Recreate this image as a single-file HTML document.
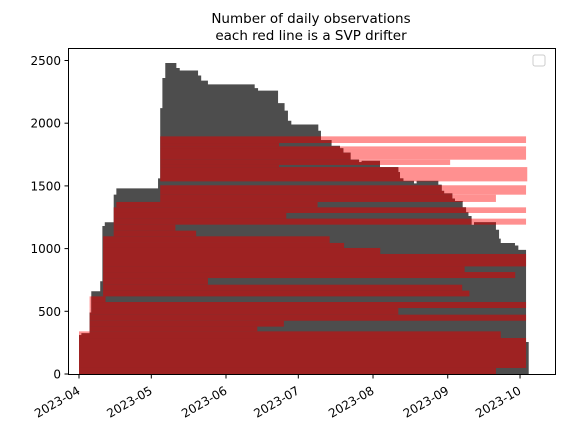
<!DOCTYPE html>
<html><head><meta charset="utf-8"><style>
html,body{margin:0;padding:0;background:#fff;}
svg text{font-family:"DejaVu Sans","Liberation Sans",sans-serif;}
</style></head><body>
<svg id="chart" width="561" height="435" viewBox="0 0 561 435" xmlns="http://www.w3.org/2000/svg">
<text x="311" y="23" font-size="13.5" text-anchor="middle">Number of daily observations</text>
<text x="311" y="40" font-size="13.5" text-anchor="middle">each red line is a SVP drifter</text>
<defs><clipPath id="histclip"><path id="clippath"/></clipPath></defs>
<g id="pink"></g>
<g id="hist"></g>
<g id="red" clip-path="url(#histclip)"></g>
<rect x="68.5" y="48.5" width="487" height="326" fill="none" stroke="#000" stroke-width="1"/>
<rect x="533" y="55" width="12" height="11" rx="2" fill="#fff" stroke="#ccc" stroke-width="1"/>
<g id="yaxis"></g>
<g id="xaxis"></g>
</svg>
<script>
const histEdges=[0,1,4.4,5.1,8.8,9.7,10.7,14.4,15.5,32.8,33.7,34.6,35.8,40.4,41.8,49.4,50.7,53.5,72.9,74.3,82.6,85.3,86.7,88.1,99.3,100.4,104.8,108.3,109.7,112.7,116.2,117.3,124.9,132.5,133.2,134.6,139,140.1,149.1,150.5,151.5,154.9,156,159.2,160.6,161.6,162.9,163.9,173,174.3,175,180.9,182.3,185.5,186.6];
const histValues=[310,325,490,660,740,1180,1210,1430,1480,1560,2120,2360,2480,2440,2420,2380,2340,2310,2280,2260,2160,2100,2020,1990,1940,1865,1820,1800,1765,1710,1690,1700,1650,1610,1560,1540,1520,1540,1510,1460,1440,1400,1380,1330,1290,1260,1190,1210,1150,1080,1045,1025,990,255];
// drifter bands: [low, high, startDay, endDay]
const bandLow=[0,48,287,340,378,425,473,526,574,619,665,712,765,813,858,957,1005,1045,1098,1143,1191,1239,1284,1329,1372,1430,1536,1650,1667,1709,1802,1815,1842];
const bandHigh=[48,287,340,378,425,473,526,574,619,665,712,765,813,858,957,1005,1045,1098,1143,1191,1239,1284,1329,1372,1430,1505,1650,1667,1709,1802,1815,1842,1895];
const bandStart=[0,0,0,4.4,4.4,4.4,4.4,4.4,4.4,10,10,10,10,10,10,10,10,10,14.4,14.4,14.4,14.4,14.4,15.5,33.7,33.7,33.7,33.7,33.7,33.7,33.7,33.7,33.7];
const bandEnd=[173,185.5,175,74,85,185.5,132.5,185.5,11,162,159,53.5,181,160,185.5,125,110,104,48.6,40,185.5,86,185.5,99,173,185.5,186,83,154,185.5,185.5,83,185.5];
const yTicks=[0,500,1000,1500,2000,2500];
const xTickDays=[0,30,61,91,122,153,183];
const xTickLabels=["2023-04","2023-05","2023-06","2023-07","2023-08","2023-09","2023-10"];

const NS="http://www.w3.org/2000/svg";
const xs=d=>79+d*2.41;
const ys=v=>374-v*0.1254;
function mk(tag,attrs,parent){const e=document.createElementNS(NS,tag);for(const k in attrs)e.setAttribute(k,attrs[k]);parent.appendChild(e);return e;}

const pink=document.getElementById('pink'),red=document.getElementById('red'),hist=document.getElementById('hist');
for(let i=0;i<bandLow.length;i++){
  const x0=xs(bandStart[i]),x1=xs(bandEnd[i]),y0=ys(bandHigh[i]),y1=ys(bandLow[i]);
  const p=mk('rect',{x:x0,y:y0,width:x1-x0,height:y1-y0,fill:'#ff9090'},pink);
  
  
  const r=mk('rect',{x:x0,y:y0,width:x1-x0,height:y1-y0,fill:'#9e2222'},red);
  
  
}
let d='M'+xs(histEdges[0])+','+ys(0);
for(let i=0;i<histValues.length;i++){d+=' L'+xs(histEdges[i])+','+ys(histValues[i])+' L'+xs(histEdges[i+1])+','+ys(histValues[i]);}
d+=' L'+xs(histEdges[histEdges.length-1])+','+ys(0)+' Z';
const hp=mk('path',{d:d,fill:'#4d4d4d'},hist);


document.getElementById('clippath').setAttribute('d',d);

const ya=document.getElementById('yaxis');
yTicks.forEach(v=>{
  const y=ys(v);
  const t=mk('line',{x1:64.5,x2:68.5,y1:y,y2:y,stroke:'#000'},ya);
  
  
  const l=mk('text',{x:61,y:y+4.5,'font-size':'12','text-anchor':'end'},ya);
  l.textContent=v;
  
  
});
const xa=document.getElementById('xaxis');
xTickDays.forEach((dd,i)=>{
  const x=xs(dd);
  const t=mk('line',{x1:x,x2:x,y1:374.5,y2:378.5,stroke:'#000'},xa);
  
  
  const ax=x+2, ay=393;
  const l=mk('text',{x:ax,y:ay,'font-size':'12','text-anchor':'end',transform:'rotate(-30 '+ax+' '+ay+')'},xa);
  l.textContent=xTickLabels[i];
  
  
});
</script>
</body></html>
